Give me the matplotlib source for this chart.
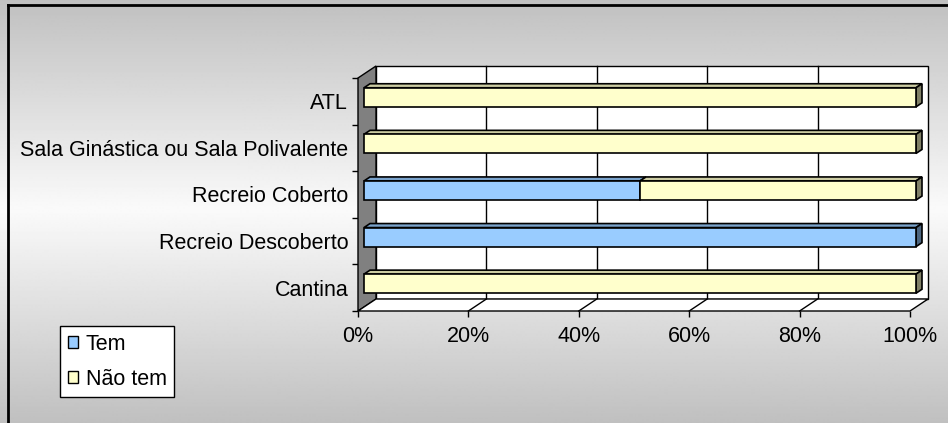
import numpy as np
import matplotlib
matplotlib.use('Agg')
import matplotlib.pyplot as plt
from matplotlib.patches import Polygon, Patch
from matplotlib.lines import Line2D

plt.rcParams['font.family'] = ['Liberation Sans', 'DejaVu Sans']
plt.rcParams['font.size'] = 15.5

# data (bottom to top)
categories = ['Cantina', 'Recreio Descoberto', 'Recreio Coberto',
              'Sala Ginástica ou Sala Polivalente', 'ATL']
tem = [0, 100, 50, 0, 0]
nao_tem = [100, 0, 50, 100, 100]
series_names = ['Tem', 'Não tem']
xticks = [0, 20, 40, 60, 80, 100]

face_col = ['#99ccff', '#ffffcc']
top_col = ['#7aa3cc', '#cccca3']
side_col = ['#4d6680', '#808066']

W, H = 948, 423
fig = plt.figure(figsize=(W / 100, H / 100), dpi=100)

# gray gradient background
bg = fig.add_axes([0, 0, 1, 1], zorder=-10)
g = np.concatenate([np.linspace(192, 250, 210), np.linspace(250, 192, 213)]) / 255
bg.imshow(np.tile(g[:, None], (1, 2)), cmap='gray', vmin=0, vmax=1,
          aspect='auto', extent=[0, 1, 0, 1])
bg.axis('off')

ax_l, ax_r, ax_t, ax_b = 358, 910, 78, 311
ax = fig.add_axes([ax_l / W, 1 - ax_b / H, (ax_r - ax_l) / W, (ax_b - ax_t) / H])
n = len(categories)
ax.set_xlim(0, 100)
ax.set_ylim(-0.5, n - 0.5)
ax.patch.set_alpha(0)
for s in ax.spines.values():
    s.set_visible(False)

# depth of the 3d box in data units
dx = 18 / ((ax_r - ax_l) / 100)
dy = 12 / ((ax_b - ax_t) / n)


def P(x, y, f):
    return (x + f * dx, y + f * dy)


def poly(pts, fc, z, lw=1):
    ax.add_patch(Polygon(pts, closed=True, fc=fc, ec='black', lw=lw,
                         zorder=z, clip_on=False))


y0, y1 = -0.5, n - 0.5
# back wall + gridlines
poly([P(0, y0, 1), P(100, y0, 1), P(100, y1, 1), P(0, y1, 1)], 'white', 1)
for x in xticks[1:-1]:
    ax.plot(*zip(P(x, y0, 1), P(x, y1, 1)), color='black', lw=1, zorder=1.5, clip_on=False)
# left wall and floor
poly([P(0, y0, 0), P(0, y1, 0), P(0, y1, 1), P(0, y0, 1)], '#808080', 2)
poly([P(0, y0, 0), P(100, y0, 0), P(100, y0, 1), P(0, y0, 1)], 'white', 2)
for x in xticks[1:-1]:
    ax.plot(*zip(P(x, y0, 0), P(x, y0, 1)), color='black', lw=1, zorder=2.5, clip_on=False)

# bars
h = 0.41
for i in range(n):
    vals = [tem[i], nao_tem[i]]
    total = sum(vals)
    left = 0
    for j, w in enumerate(vals):
        if w <= 0:
            continue
        ax.barh(i + dy / 3, w, left=left + dx / 3, height=h, color=face_col[j],
                edgecolor='black', linewidth=1.2, zorder=5, clip_on=False)
        yt = i + h / 2
        poly([P(left, yt, 1 / 3), P(left + w, yt, 1 / 3),
              P(left + w, yt, 2 / 3), P(left, yt, 2 / 3)], top_col[j], 4, 1.2)
        if left + w >= total:
            r = left + w
            poly([P(r, i - h / 2, 1 / 3), P(r, yt, 1 / 3),
                  P(r, yt, 2 / 3), P(r, i - h / 2, 2 / 3)], side_col[j], 4, 1.2)
        left += w

# ticks
ax.set_yticks(range(n))
ax.set_yticklabels(categories)
ax.tick_params(axis='y', which='major', length=0, pad=7)
ax.set_yticks(np.arange(-0.5, n), minor=True)
ax.tick_params(axis='y', which='minor', length=4.5, width=1, direction='out')
ax.set_xticks(xticks)
ax.set_xticklabels([f'{v}%' for v in xticks])
ax.tick_params(axis='x', length=4, width=1, pad=7)

fig.legend([Patch(fc=c, ec='black', lw=1) for c in face_col], series_names,
           loc='upper left', bbox_to_anchor=(60 / W, 1 - 326 / H),
           frameon=True, fancybox=False, edgecolor='black', framealpha=1,
           handlelength=0.5, handleheight=0.5, handletextpad=0.35,
           borderpad=0.35, labelspacing=0.65, borderaxespad=0)

# outer border (top and left visible)
fig.add_artist(Line2D([8 / W, 1], [1 - 5.5 / H] * 2, transform=fig.transFigure, color='black', lw=2))
fig.add_artist(Line2D([8 / W] * 2, [0, 1 - 5.5 / H], transform=fig.transFigure, color='black', lw=2))

fig.savefig('out.png', dpi=100)
